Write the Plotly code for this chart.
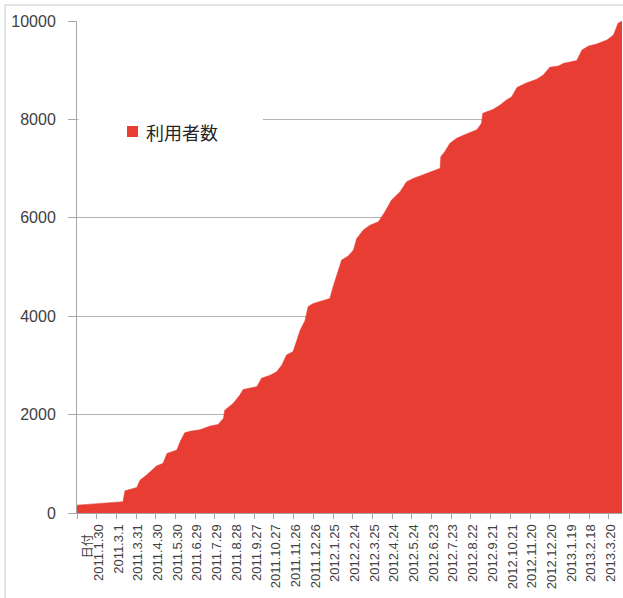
import plotly.graph_objects as go

# ---- data ----
dates = [
    "2010-12-31", "2011-01-27", "2011-02-24", "2011-03-11", "2011-03-14", "2011-04-01",
    "2011-04-06", "2011-04-14", "2011-04-24", "2011-05-01", "2011-05-11", "2011-05-17",
    "2011-06-01", "2011-06-06", "2011-06-13", "2011-06-21", "2011-07-06", "2011-07-22",
    "2011-08-03", "2011-08-11", "2011-08-13", "2011-08-26", "2011-09-05", "2011-09-10",
    "2011-10-01", "2011-10-08", "2011-10-21", "2011-10-31", "2011-11-08", "2011-11-15",
    "2011-11-25", "2011-12-01", "2011-12-06", "2011-12-13", "2011-12-18", "2011-12-26",
    "2012-01-05", "2012-01-20", "2012-01-25", "2012-02-02", "2012-02-07", "2012-02-17",
    "2012-02-25", "2012-03-01", "2012-03-11", "2012-03-21", "2012-04-03", "2012-04-13",
    "2012-04-23", "2012-05-06", "2012-05-16", "2012-05-26", "2012-06-10", "2012-06-26",
    "2012-07-06", "2012-07-07", "2012-07-13", "2012-07-21", "2012-07-31", "2012-08-15",
    "2012-08-31", "2012-09-07", "2012-09-09", "2012-09-25", "2012-10-05", "2012-10-15",
    "2012-10-23", "2012-10-31", "2012-11-15", "2012-11-30", "2012-12-10", "2012-12-20",
    "2013-01-02", "2013-01-10", "2013-01-30", "2013-02-07", "2013-02-17", "2013-03-01",
    "2013-03-17", "2013-03-27", "2013-04-03", "2013-04-08", "2013-04-09",
]
users = [
    160, 190, 210, 230, 450, 520,
    670, 750, 870, 955, 1010, 1210,
    1280, 1450, 1630, 1660, 1690, 1770,
    1800, 1925, 2090, 2230, 2400, 2510,
    2570, 2740, 2800, 2870, 3010, 3210,
    3280, 3520, 3720, 3900, 4195, 4260,
    4295, 4360, 4600, 4940, 5140, 5225,
    5345, 5580, 5750, 5850, 5920, 6125,
    6360, 6530, 6735, 6800, 6870, 6960,
    7005, 7240, 7345, 7515, 7615, 7705,
    7790, 7920, 8125, 8205, 8290, 8395,
    8460, 8650, 8745, 8815, 8900, 9060,
    9085, 9140, 9195, 9410, 9490, 9530,
    9615, 9715, 9955, 9990, 10000,
]

tick_dates = [
    "2010-12-31", "2011-01-30", "2011-03-01", "2011-03-31", "2011-04-30", "2011-05-30",
    "2011-06-29", "2011-07-29", "2011-08-28", "2011-09-27", "2011-10-27",
    "2011-11-26", "2011-12-26", "2012-01-25", "2012-02-24", "2012-03-25",
    "2012-04-24", "2012-05-24", "2012-06-23", "2012-07-23", "2012-08-22",
    "2012-09-21", "2012-10-21", "2012-11-20", "2012-12-20", "2013-01-19",
    "2013-02-18", "2013-03-20",
]
tick_labels = [
    "", "2011.1.30", "2011.3.1", "2011.3.31", "2011.4.30", "2011.5.30",
    "2011.6.29", "2011.7.29", "2011.8.28", "2011.9.27", "2011.10.27",
    "2011.11.26", "2011.12.26", "2012.1.25", "2012.2.24", "2012.3.25",
    "2012.4.24", "2012.5.24", "2012.6.23", "2012.7.23", "2012.8.22",
    "2012.9.21", "2012.10.21", "2012.11.20", "2012.12.20", "2013.1.19",
    "2013.2.18", "2013.3.20",
]
series_name = "利用者数"
axis_title = "日付"

RED = "rgb(232,61,51)"
GRID = "#b4b4b4"
AXIS = "#a6a6a6"
TXT = "#404040"

fig = go.Figure()
fig.add_trace(go.Scatter(
    x=dates, y=users, mode="lines", fill="tozeroy",
    fillcolor=RED, line=dict(color=RED, width=0.5),
    name=series_name, showlegend=False, hoverinfo="x+y",
))

fig.update_layout(
    width=623, height=598,
    margin=dict(l=77, r=1, t=21, b=85, autoexpand=False),
    paper_bgcolor="white", plot_bgcolor="white",
    showlegend=False,
    xaxis=dict(
        type="date", range=["2010-12-31", "2013-04-09"],
        tickmode="array", tickvals=tick_dates, ticktext=tick_labels,
        tickangle=-90, ticks="outside", ticklen=5, tickcolor=AXIS,
        showline=True, linecolor=AXIS, linewidth=1, showgrid=False,
        tickfont=dict(family="Liberation Sans", size=13, color=TXT),
        ticklabelshift=2,
        zeroline=False, automargin=False,
    ),
    yaxis=dict(
        range=[0, 10000], tickmode="linear", tick0=0, dtick=2000,
        tickformat="d",
        ticks="outside", ticklen=8, tickcolor=AXIS,
        showline=True, linecolor=AXIS, linewidth=1,
        showgrid=True, gridcolor=GRID, gridwidth=1, zeroline=False,
        tickfont=dict(family="Liberation Sans", size=16, color=TXT),
        ticklabelstandoff=9, automargin=False,
    ),
    shapes=[
        # outer chart border
        dict(type="rect", xref="paper", yref="paper",
             x0=(5 - 77) / 545, x1=(640 - 77) / 545,
             y0=(513 - 620) / 492, y1=1 + (21 - 5) / 492,
             line=dict(color="#c8c8c8", width=1), fillcolor="rgba(0,0,0,0)",
             layer="below"),
        # legend background (hides the gridline behind it)
        dict(type="rect", xref="paper", yref="paper",
             x0=0.003, x1=(263 - 77) / 545,
             y0=(513 - 160) / 492, y1=(513 - 105) / 492,
             line=dict(width=0), fillcolor="white", layer="above"),
        # legend swatch
        dict(type="rect", xref="paper", yref="paper",
             x0=(127 - 77) / 545, x1=(138 - 77) / 545,
             y0=(513 - 137) / 492, y1=(513 - 126) / 492,
             line=dict(width=0), fillcolor=RED, layer="above"),
    ],
    annotations=[
        dict(text=series_name, xref="paper", yref="paper",
             x=(144 - 77) / 545, y=(513 - 132) / 492,
             xanchor="left", yanchor="middle", showarrow=False,
             font=dict(family="Noto Sans CJK JP", size=18, color="#262626")),
        dict(text=axis_title, xref="x", yref="paper",
             x="2011-01-14", y=0, yshift=-19,
             xanchor="center", yanchor="top", textangle=-90, showarrow=False,
             font=dict(family="Noto Sans CJK JP", size=12, color=TXT)),
    ],
)

fig.write_html(
    "out.html",
    config={"displayModeBar": False},
    post_script="document.body.style.margin='0';document.body.style.overflow='hidden';",
)
